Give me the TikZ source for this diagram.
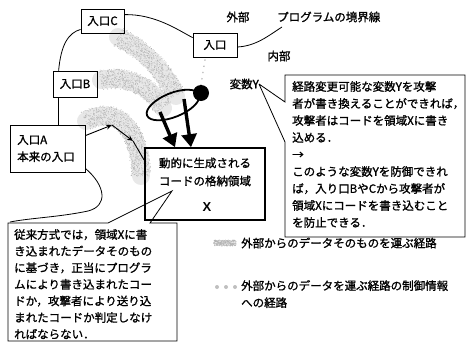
\documentclass[tikz,border=0pt]{standalone}
\usepackage{fontspec}
\setmainfont{Noto Sans CJK JP}[FakeBold=1.2]
\newfontfamily\xfont{Liberation Sans}
\usetikzlibrary{arrows.meta,calc,decorations.markings}
\pgfmathsetseed{7}
\tikzset{
  entry/.style={draw,line width=0.8pt,inner sep=0pt,minimum height=24pt,font=\fontsize{11.5}{14}\selectfont},
  band/.style={draw=gray!18,line width=18pt,line cap=round},
  stipple/.style={decoration={markings,
     mark=between positions 0 and 1 step 0.7pt with {\foreach \k in {1,...,7}{\fill[gray!62] (rand*0.4,rand*#1) circle [radius=0.42pt];}}},
     decorate},
  bound/.style={line width=0.8pt},
  bigarrow/.style={line width=3.4pt,-{Triangle[width=15pt,length=13pt]}},
  flow/.style={line width=0.9pt,-{Stealth[length=6pt,width=5pt]}},
  txt/.style={inner sep=0pt,font=\fontsize{11.5}{17}\selectfont},
  para/.style={inner sep=0pt,align=left,font=\fontsize{11.5}{17}\selectfont},
}
\begin{document}
\begin{tikzpicture}[x=1pt,y=-1pt]
\useasboundingbox (0,0) rectangle (473,343);
% stippled bands (paths of external data)
\draw[band] (118,37) .. controls (145,50) and (165,72) .. (176,96);
\path[stipple=10] (118,37) .. controls (145,50) and (165,72) .. (176,96);
\draw[band] (101,80) .. controls (130,75) and (152,88) .. (163,108);
\path[stipple=10] (101,80) .. controls (130,75) and (152,88) .. (163,108);
\draw[band] (86,121) .. controls (112,106) and (140,122) .. (141,176);
\path[stipple=10] (86,121) .. controls (112,106) and (140,122) .. (141,176);
% entry boxes
\node[entry,minimum width=43pt] (C) at (102.5,21) {入口C};
\node[entry,minimum width=44pt] (E) at (215,45) {入口};
\node[entry,minimum width=44pt,minimum height=26pt] (B) at (75,84) {入口B};
\node[draw,line width=0.8pt,minimum width=75pt,minimum height=47pt,inner sep=0pt] (A) at (47.5,148.5) {};
\node[para,anchor=west] (At) at (17,148.5) {入口A\\本来の入口};
% program boundary
\coordinate (bx) at (58,0);
\draw[bound] (B.south -| bx) -- (A.north -| bx);
\draw[bound] ($(B.north west)+(6,0)$) .. controls (61,45) and (68,33) .. ($(C.south west)+(0,-4)$);
\draw[bound] ($(C.north east)+(0,6)$) .. controls (155,14) and (178,30) .. ($(E.north west)+(0,5)$);
\coordinate (blab) at (282,27);
\draw[bound] ($(E.east)+(0,2)$) .. controls (256,46) and (268,36) .. (blab);
\draw[bound] ($(A.south east)+(0,-4)$) .. controls (106,186) and (108,206) .. (88,211) .. controls (60,217) and (30,218) .. (10,222);
% labels
\node[txt] (out) at (238,17) {外部};
\node[txt,anchor=west] (lab) at (277,17) {プログラムの境界線};
\node[txt] (in) at (279,56) {内部};
% central box
\node[draw,line width=1.6pt,minimum width=120pt,minimum height=72pt,inner sep=0pt] (X) at (205,184) {};
\node[txt] (x1) at (205,163) {動的に生成される};
\node[txt] (x2) at (205,181) {コードの格納領域};
\node[inner sep=0pt,font=\xfont\bfseries\fontsize{13}{15}\selectfont] (x3) at (207,207) {X};
% path from entry A
\coordinate (p1) at (112,125);
\coordinate (p2) at (133,141);
\draw[flow] ($(A.north east)+(0,11)$) -- (p1);
\draw[flow] (p1) -- (p2);
\draw[line width=0.9pt] (p2) -- ($(X.north west)+(0,13)$);
% control variable Y
\node[circle,fill,inner sep=0pt,minimum size=16pt] (dot) at (201,93) {};
\draw[gray!55,line width=1.3pt,dash pattern=on 1.3pt off 5pt] ($(E.south)+(-10,2)$) -- (dot.north);
\draw[line width=1.8pt,rotate around={22:(173,105)}] (173,105) ellipse [x radius=28,y radius=12];
\coordinate (a1) at (160,112);
\coordinate (a2) at (184,99);
\draw[bigarrow] (a1) -- (X.north west -| 175,0);
\draw[bigarrow] (a2) -- (X.north west -| 191,0);
\node[txt,anchor=east] (V) at (259,84) {変数Y};
% right callout
\coordinate (r1) at (285,75);
\coordinate (r2) at (465,237);
\draw[line width=0.8pt] (V.east) -- (r1 |- 0,102) -- (r1) -- (r1 -| r2) -- (r2) -- (r2 -| r1) -- (r1 |- 0,142) -- (V.east);
\node[para,anchor=north west] (rt) at (292,81) {経路変更可能な変数Yを攻撃\\者が書き換えることができれば，\\攻撃者はコードを領域Xに書き\\込める．\\→\\このような変数Yを防御できれ\\ば，入り口BやCから攻撃者が\\領域Xにコードを書き込むこと\\を防止できる．};
% bottom-left callout
\coordinate (q1) at (8,223);
\coordinate (q2) at (177,341);
\coordinate (qt) at (172,191);
\draw[line width=0.8pt] (q1) -- (108,223) -- (qt) -- (150,223) -- (q1 -| q2) -- (q2) -- (q2 -| q1) -- cycle;
\node[para,anchor=north west,font=\fontsize{11.5}{16.6}\selectfont] (lt) at (14,229) {従来方式では，領域Xに書\\き込まれたデータそのもの\\に基づき，正当にプログラ\\ムにより書き込まれたコー\\ドか，攻撃者により送り込\\まれたコードか判定しなけ\\ればならない．};
% legend
\draw[band,line width=6pt,line cap=butt] (214,243) -- (236,243);
\path[stipple=3] (214,243) -- (236,243);
\node[txt,anchor=west] (l1) at (241,243) {外部からのデータそのものを運ぶ経路};
\foreach \i in {217,226,235} \fill[gray!50] (\i,287) circle [radius=2];
\node[para,anchor=north west] (l2) at (241,280) {外部からのデータを運ぶ経路の制御情報\\への経路};
\end{tikzpicture}
\end{document}
